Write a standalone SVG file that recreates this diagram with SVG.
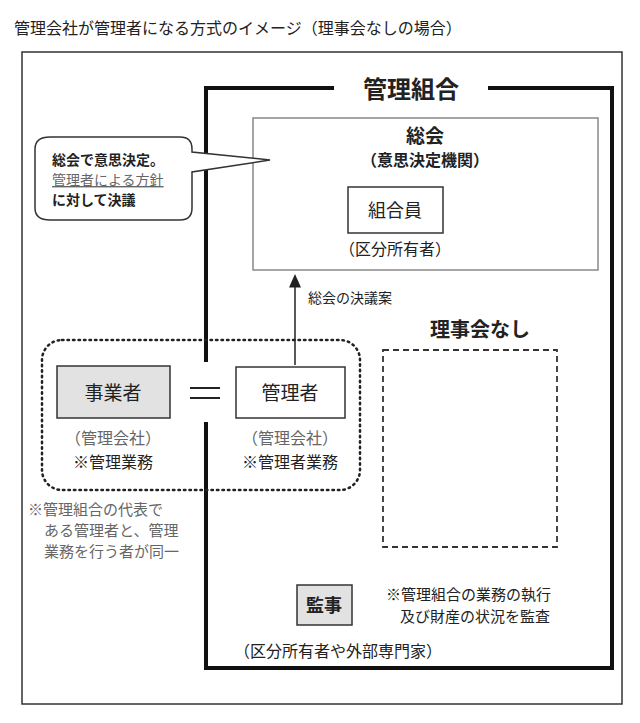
<svg xmlns="http://www.w3.org/2000/svg" width="640" height="723" viewBox="0 0 640 723">
<defs>
<style>
text{font-family:"Noto Sans CJK JP","Noto Sans",sans-serif;fill:#222}
.b{font-weight:bold}
.g{fill:#666}
.box{fill:#fff;stroke:#333;stroke-width:1.5}
.gbox{fill:#e2e2e2;stroke:#333;stroke-width:1.5}
</style>
<marker id="ah" markerWidth="10" markerHeight="10" refX="5" refY="5" orient="auto"><path d="M0,1 L9,5 L0,9 Z" fill="#222"/></marker>
</defs>
<rect width="640" height="723" fill="#fff"/>
<text x="14" y="34" font-size="16">管理会社が管理者になる方式のイメージ（理事会なしの場合）</text>
<rect x="22" y="52" width="600" height="652" fill="none" stroke="#333" stroke-width="1.5"/>
<g id="kumiai">
<rect x="206" y="88" width="406" height="580" fill="none" stroke="#111" stroke-width="4"/>
<rect x="334" y="70" width="154" height="34" fill="#fff"/>
<text x="411" y="98" font-size="24" class="b" text-anchor="middle">管理組合</text>
</g>
<g id="sokai">
<rect x="253" y="118" width="345" height="152" fill="#fff" stroke="#888" stroke-width="1.5"/>
<text x="425" y="143" font-size="19" class="b" text-anchor="middle">総会</text>
<text x="425" y="166" font-size="16" class="b" text-anchor="middle">（意思決定機関）</text>
</g>
<g id="kumiaiin">
<rect x="348" y="187" width="95" height="46" class="box"/>
<text x="395" y="217" font-size="18" text-anchor="middle">組合員</text>
<text x="395" y="255" font-size="16" text-anchor="middle">（区分所有者）</text>
</g>
<g id="callout">
<path d="M50,137 H180 Q192,137 192,149 V152 L270,160 L192,172 V208 Q192,220 180,220 H50 Q35,220 35,208 V149 Q35,137 50,137 Z" fill="#fff" stroke="#333" stroke-width="1.5"/>
<text x="52" y="165" font-size="14" class="b">総会で意思決定。</text>
<text x="52" y="185" font-size="14" class="g" text-decoration="underline">管理者による方針</text>
<text x="52" y="205" font-size="14" class="b">に対して決議</text>
</g>
<g id="connectors">
<line x1="295" y1="365" x2="295" y2="280" stroke="#222" stroke-width="1.5" marker-end="url(#ah)"/>
</g>
<text x="308" y="303" font-size="14">総会の決議案</text>
<text x="480" y="337" font-size="20" class="b" text-anchor="middle">理事会なし</text>
<rect id="rijikai" x="383" y="350" width="174" height="197" fill="none" stroke="#333" stroke-width="1.8" stroke-dasharray="6,4"/>
<g id="group">
<rect x="42" y="340" width="318" height="150" rx="20" fill="none" stroke="#222" stroke-width="2.5" stroke-dasharray="1.5,4" stroke-linecap="round"/>
<rect x="180" y="362" width="50" height="60" fill="#fff"/>
<line x1="190" y1="388" x2="220" y2="388" stroke="#222" stroke-width="2"/>
<line x1="190" y1="398" x2="220" y2="398" stroke="#222" stroke-width="2"/>
</g>
<g id="jigyosha">
<rect x="57" y="366" width="113" height="52" class="gbox"/>
<text x="113" y="400" font-size="19" text-anchor="middle">事業者</text>
<text x="113" y="444" font-size="16" class="g" text-anchor="middle">（管理会社）</text>
<text x="113" y="468" font-size="16" text-anchor="middle">※管理業務</text>
</g>
<g id="kanrisha">
<rect x="236" y="367" width="109" height="51" class="box"/>
<text x="290" y="400" font-size="19" text-anchor="middle">管理者</text>
<text x="290" y="444" font-size="16" class="g" text-anchor="middle">（管理会社）</text>
<text x="290" y="468" font-size="16" text-anchor="middle">※管理者業務</text>
</g>
<g id="note" font-size="15">
<text x="28" y="515" class="g">※管理組合の代表で</text>
<text x="44" y="536" class="g">ある管理者と、管理</text>
<text x="44" y="557" class="g">業務を行う者が同一</text>
</g>
<g id="kanji">
<rect x="297" y="585" width="55" height="40" class="gbox"/>
<text x="324" y="612" font-size="18" class="b" text-anchor="middle">監事</text>
<text x="386" y="600" font-size="15">※管理組合の業務の執行</text>
<text x="400" y="622" font-size="15">及び財産の状況を監査</text>
<text x="338" y="657" font-size="16" text-anchor="middle">（区分所有者や外部専門家）</text>
</g>
</svg>
